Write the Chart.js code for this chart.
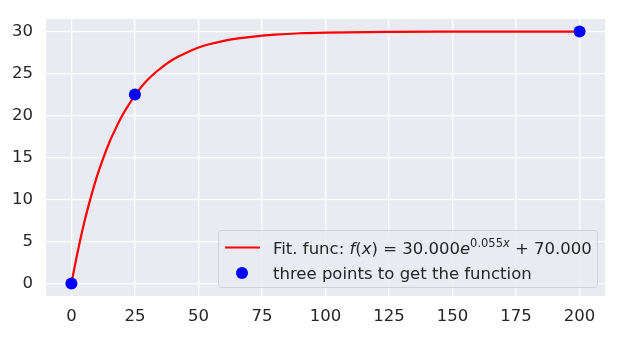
<!DOCTYPE html>
<html>
<head>
<meta charset="utf-8">
<script src="https://cdn.jsdelivr.net/npm/chart.js@4/dist/chart.umd.min.js"></script>
<style>
  html, body { margin: 0; padding: 0; background: #fff; }
  #wrap { width: 624px; height: 337px; position: relative; }
</style>
</head>
<body>
<div id="wrap"><canvas id="fitChart"></canvas></div>
<script>
// fitted curve
const curveX = [0, 2.5, 5, 7.5, 10, 12.5, 15, 17.5, 20, 22.5, 25, 27.5, 30, 32.5, 35, 37.5, 40, 42.5, 45, 50, 55, 60, 65, 70, 80, 90, 100, 125, 150, 175, 200];
const curveY = [0, 3.8, 7.2, 10.1, 12.7, 14.9, 16.85, 18.5, 20.0, 21.25, 22.4, 23.4, 24.25, 24.98, 25.6, 26.18, 26.68, 27.1, 27.45, 28.1, 28.55, 28.9, 29.16, 29.35, 29.63, 29.8, 29.88, 29.97, 29.99, 30.0, 30.0];

// the three measured points
const pointX = [0, 25, 200];
const pointY = [0, 22.5, 30];

const xTicks = [0, 25, 50, 75, 100, 125, 150, 175, 200];
const yTicks = [0, 5, 10, 15, 20, 25, 30];

const FONT = '"DejaVu Sans", sans-serif';
const TEXT = '#262626';
const FS = 16.5;

// gray axes background like seaborn darkgrid
const bgPlugin = {
    id: 'bg',
    beforeDraw(chart) {
        const { ctx, chartArea: a } = chart;
        ctx.save();
        ctx.fillStyle = '#EAEAF2';
        ctx.fillRect(a.left, a.top, a.right - a.left, a.bottom - a.top);
        ctx.restore();
    }
};

// legend drawn by hand so the formula can have a superscript
const legendPlugin = {
    id: 'mathLegend',
    afterDraw(chart) {
        const ctx = chart.ctx;
        const bx = 218.5, by = 230.5, bw = 379, bh = 57;
        ctx.save();
        ctx.fillStyle = 'rgba(234,234,242,0.8)';
        ctx.strokeStyle = 'rgba(204,204,204,0.8)';
        ctx.lineWidth = 1;
        ctx.beginPath();
        ctx.roundRect(bx, by, bw, bh, 3);
        ctx.fill();
        ctx.stroke();

        // row 1: red line + formula
        const y1 = 247.5;
        ctx.strokeStyle = 'red';
        ctx.lineWidth = 2.2;
        ctx.beginPath();
        ctx.moveTo(225, y1);
        ctx.lineTo(260, y1);
        ctx.stroke();

        ctx.fillStyle = TEXT;
        ctx.textBaseline = 'alphabetic';
        ctx.textAlign = 'left';
        const base1 = y1 + 6;
        const parts = [
            ['Fit. func: ', 'normal', FS, 0],
            ['f', 'italic', FS, 0],
            ['(', 'normal', FS, 0],
            ['x', 'italic', FS, 0],
            [')', 'normal', FS, 0],
            [' = 30.000', 'normal', FS, 0],
            ['e', 'italic', FS, 0],
            ['0.055', 'normal', 11.5, -7],
            ['x', 'italic', 11.5, -7],
            [' + 70.000', 'normal', FS, 0]
        ];
        let x = 273;
        parts.forEach(p => {
            ctx.font = p[1] + ' ' + p[2] + 'px ' + FONT;
            ctx.fillText(p[0], x, base1 + p[3]);
            x += ctx.measureText(p[0]).width;
        });

        // row 2: blue dot + text
        const y2 = 273;
        ctx.fillStyle = 'blue';
        ctx.beginPath();
        ctx.arc(242, y2, 6, 0, Math.PI * 2);
        ctx.fill();
        ctx.fillStyle = TEXT;
        ctx.font = FS + 'px ' + FONT;
        ctx.fillText('three points to get the function', 273, y2 + 6);
        ctx.restore();
    }
};

function setupChart() {
    const ctx = document.getElementById('fitChart').getContext('2d');
    new Chart(ctx, {
        type: 'scatter',
        data: {
            datasets: [{
                label: 'Fit. func',
                data: curveX.map((v, i) => ({ x: v, y: curveY[i] })),
                showLine: true,
                borderColor: 'red',
                borderWidth: 2.2,
                pointRadius: 0,
                cubicInterpolationMode: 'monotone',
                order: 2
            }, {
                label: 'three points to get the function',
                data: pointX.map((v, i) => ({ x: v, y: pointY[i] })),
                backgroundColor: 'blue',
                borderColor: 'blue',
                pointRadius: 6,
                borderWidth: 0,
                order: 1
            }]
        },
        options: {
            responsive: false,
            animation: false,
            layout: { padding: { top: 19, right: 19, left: 0, bottom: 0 } },
            plugins: {
                legend: { display: false },
                tooltip: { enabled: false }
            },
            scales: {
                x: {
                    type: 'linear',
                    min: -10,
                    max: 210,
                    afterBuildTicks: axis => { axis.ticks = xTicks.map(v => ({ value: v })); },
                    afterFit: axis => {
                        axis.height = 41;
                        axis.paddingLeft = 0;
                        axis.paddingRight = 0;
                    },
                    grid: { color: '#ffffff', lineWidth: 1.3, drawTicks: false },
                    border: { display: false },
                    ticks: { color: TEXT, font: { family: FONT, size: FS }, padding: 11, maxRotation: 0 }
                },
                y: {
                    type: 'linear',
                    min: -1.5,
                    max: 31.5,
                    afterBuildTicks: axis => { axis.ticks = yTicks.map(v => ({ value: v })); },
                    afterFit: axis => {
                        axis.width = 46;
                        axis.paddingTop = 0;
                        axis.paddingBottom = 0;
                    },
                    grid: { color: '#ffffff', lineWidth: 1.3, drawTicks: false },
                    border: { display: false },
                    ticks: { color: TEXT, font: { family: FONT, size: FS }, padding: 13 }
                }
            }
        },
        plugins: [bgPlugin, legendPlugin]
    });
}

const cv = document.getElementById('fitChart');
cv.width = 624;
cv.height = 337;
setupChart();
</script>
</body>
</html>
